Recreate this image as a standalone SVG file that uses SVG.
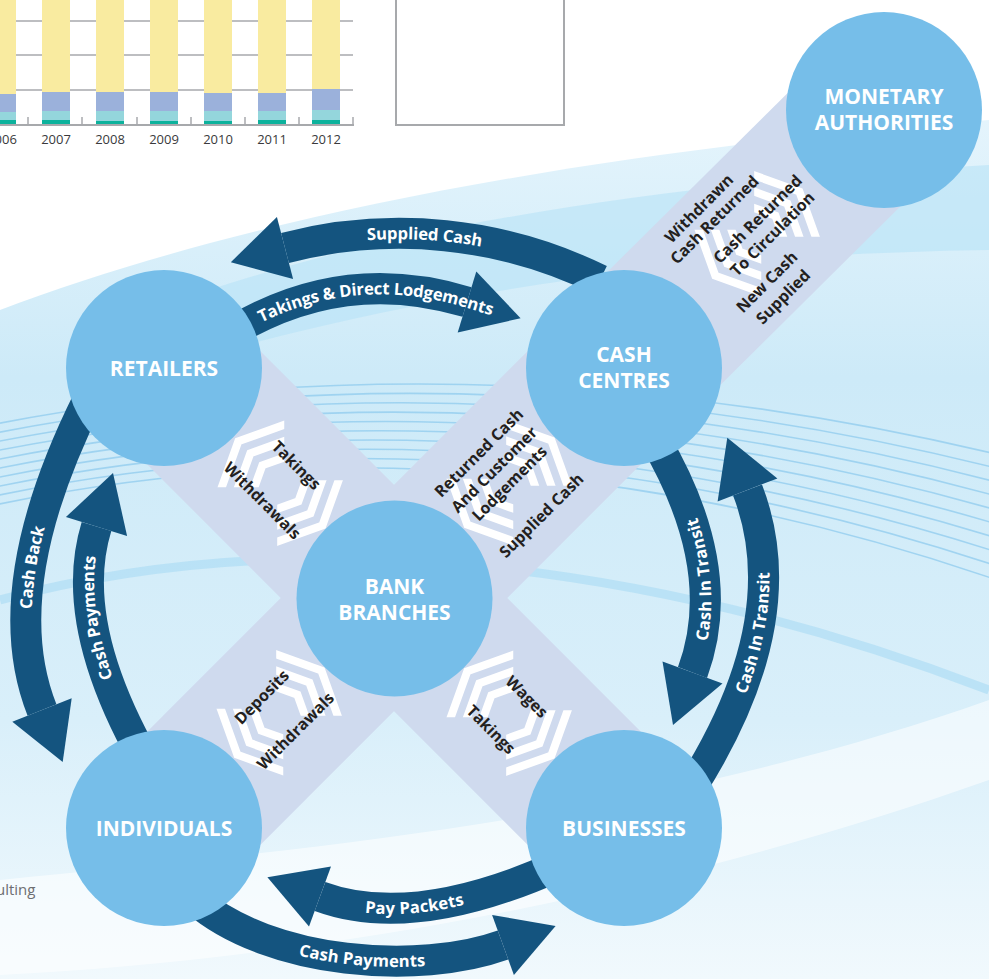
<svg xmlns="http://www.w3.org/2000/svg" xmlns:xlink="http://www.w3.org/1999/xlink" width="989" height="979" viewBox="0 0 989 979">
<style>
.node{fill:#76bee9}
.nlab{font-family:"Open Sans","Liberation Sans",sans-serif;font-weight:700;font-size:21px;fill:#ffffff;text-anchor:middle}
.band{fill:#cfdaee}
.chev{fill:none;stroke:#ffffff;stroke-width:8;stroke-linejoin:miter}
.blab{font-family:"Open Sans","Liberation Sans",sans-serif;font-weight:700;font-size:16px;fill:#231f20;text-anchor:middle}
.shaft{fill:none;stroke:#14547f;stroke-width:31}
.head{fill:#14547f}
.alab{font-family:"Open Sans","Liberation Sans",sans-serif;font-weight:700;font-size:16.6px;fill:#ffffff}
.bgline{fill:none;stroke:#8fcbee;stroke-width:1.6;opacity:0.75}
.grid{stroke:#a7a9ac;stroke-width:1.5}
.yr{font-family:"Open Sans","Liberation Sans",sans-serif;font-size:13px;fill:#3a3a3c;text-anchor:middle}
</style>
<defs>
<linearGradient id="gBg" x1="0" y1="0" x2="0" y2="1">
<stop offset="0" stop-color="#e4f4fc"/>
<stop offset="0.3" stop-color="#cdeaf8"/>
<stop offset="0.7" stop-color="#d9effa"/>
<stop offset="1" stop-color="#f1f9fd"/>
</linearGradient>
<clipPath id="cA" clipPathUnits="userSpaceOnUse"><polygon points="6,0 -94,100 -200,100 -200,-100 -94,-100"/></clipPath>
<clipPath id="cB" clipPathUnits="userSpaceOnUse"><polygon points="-4,0 96,100 200,100 200,-100 96,-100"/></clipPath>
<g id="chev">
<g clip-path="url(#cA)">
<polyline class="chev" points="-26,-70 -59,0 -26,70"/>
<polyline class="chev" points="-9,-70 -42,0 -9,70"/>
<polyline class="chev" points="8,-70 -25,0 8,70"/>
</g>
<g clip-path="url(#cB)">
<polyline class="chev" points="27,-70 60,0 27,70"/>
<polyline class="chev" points="10,-70 43,0 10,70"/>
<polyline class="chev" points="-7,-70 26,0 -7,70"/>
</g>
</g>
<path id="tpSupplied" d="M 285 248 A 455 455 0 0 1 600 280"/>
<path id="tpTakings" d="M 235 330 Q 345 265 467 302 L 540 324"/>
<path id="tpPay" d="M 320 896.5 Q 413.8 931 560 865"/>
<path id="tpCPbot" d="M 195 900 C 270 965 420 975 503 945 L 560 925"/>
<path id="tpCashBack" d="M 42 710 Q -6 589 88 400"/>
<path id="tpCPleft" d="M 145 760 Q 67 622 96.5 526.5"/>
<path id="tpCITin" d="M 692.5 672.5 Q 730.8 569.4 655 440"/>
<path id="tpCITout" d="M 690 790 Q 798 620.6 747.5 490"/>
</defs>

<g id="background">
<rect x="0" y="0" width="989" height="979" fill="#ffffff"/>
<path d="M0,310 C 250,215 600,150 989,120 L989,979 L0,979 Z" fill="url(#gBg)"/>
<path d="M80,340 C 300,240 620,185 989,165 L989,250 C 650,255 360,300 80,395 Z" fill="#b8e2f7" opacity="0.6"/>
<path d="M0,600 C 300,520 650,560 989,690" fill="none" stroke="#a8dbf4" stroke-width="9" opacity="0.6"/>
<path d="M0,880 C 300,850 650,820 989,700 L989,780 C 650,900 300,960 0,975 Z" fill="#ffffff" opacity="0.55"/>
<g id="bg-lines">
<path class="bgline" d="M -10 425 Q 480 330 1000 455"/>
<path class="bgline" d="M -10 434 Q 480 338 1000 469"/>
<path class="bgline" d="M -10 443 Q 480 346 1000 483"/>
<path class="bgline" d="M -10 452 Q 480 354 1000 497"/>
<path class="bgline" d="M -10 461 Q 480 362 1000 511"/>
<path class="bgline" d="M -10 470 Q 480 370 1000 525"/>
<path class="bgline" d="M -10 479 Q 480 378 1000 539"/>
<path class="bgline" d="M -10 488 Q 480 386 1000 553"/>
<path class="bgline" d="M -10 497 Q 480 394 1000 567"/>
<path class="bgline" d="M -10 506 Q 480 402 1000 581"/>
</g>
</g>

<g id="chart">
<line class="grid" x1="0" y1="21" x2="353" y2="21"/>
<line class="grid" x1="0" y1="55" x2="353" y2="55"/>
<line class="grid" x1="0" y1="90" x2="353" y2="90"/>
<g id="bars">
<rect x="-12" y="0" width="28" height="94" fill="#f9eba0"/><rect x="-12" y="94" width="28" height="18" fill="#9bb1db"/><rect x="-12" y="112" width="28" height="8" fill="#94d6dc"/><rect x="-12" y="120" width="28" height="5" fill="#0cb29c"/>
<rect x="42" y="0" width="28" height="92" fill="#f9eba0"/><rect x="42" y="92" width="28" height="19" fill="#9bb1db"/><rect x="42" y="111" width="28" height="9" fill="#94d6dc"/><rect x="42" y="120" width="28" height="5" fill="#0cb29c"/>
<rect x="96" y="0" width="28" height="92" fill="#f9eba0"/><rect x="96" y="92" width="28" height="19" fill="#9bb1db"/><rect x="96" y="111" width="28" height="10" fill="#94d6dc"/><rect x="96" y="121" width="28" height="4" fill="#0cb29c"/>
<rect x="150" y="0" width="28" height="92" fill="#f9eba0"/><rect x="150" y="92" width="28" height="19" fill="#9bb1db"/><rect x="150" y="111" width="28" height="10" fill="#94d6dc"/><rect x="150" y="121" width="28" height="4" fill="#0cb29c"/>
<rect x="204" y="0" width="28" height="93" fill="#f9eba0"/><rect x="204" y="93" width="28" height="18" fill="#9bb1db"/><rect x="204" y="111" width="28" height="10" fill="#94d6dc"/><rect x="204" y="121" width="28" height="4" fill="#0cb29c"/>
<rect x="258" y="0" width="28" height="93" fill="#f9eba0"/><rect x="258" y="93" width="28" height="18" fill="#9bb1db"/><rect x="258" y="111" width="28" height="9" fill="#94d6dc"/><rect x="258" y="120" width="28" height="5" fill="#0cb29c"/>
<rect x="312" y="0" width="28" height="89" fill="#f9eba0"/><rect x="312" y="89" width="28" height="21" fill="#9bb1db"/><rect x="312" y="110" width="28" height="10" fill="#94d6dc"/><rect x="312" y="120" width="28" height="5" fill="#0cb29c"/>
</g>
<line x1="0" y1="125" x2="354" y2="125" stroke="#a7a9ac" stroke-width="2"/>
<g stroke="#a7a9ac" stroke-width="1.5">
<line x1="28" y1="117" x2="28" y2="125"/><line x1="82" y1="117" x2="82" y2="125"/><line x1="137" y1="117" x2="137" y2="125"/><line x1="191" y1="117" x2="191" y2="125"/><line x1="245" y1="117" x2="245" y2="125"/><line x1="299" y1="117" x2="299" y2="125"/><line x1="353" y1="117" x2="353" y2="125"/>
</g>
<text class="yr" x="2" y="144">2006</text>
<text class="yr" x="56" y="144">2007</text>
<text class="yr" x="110" y="144">2008</text>
<text class="yr" x="164" y="144">2009</text>
<text class="yr" x="218" y="144">2010</text>
<text class="yr" x="272" y="144">2011</text>
<text class="yr" x="326" y="144">2012</text>
</g>
<rect id="empty-box" x="396" y="-5" width="168" height="130" fill="#ffffff" stroke="#a7a9ac" stroke-width="2"/>
<text x="-4" y="895" font-family="Open Sans, Liberation Sans, sans-serif" font-size="15" fill="#6d6e71">ulting</text>

<g id="flow-bands">
<polygon class="band" points="220.6,311.4 680.6,771.4 567.4,884.6 107.4,424.6"/>
<polygon class="band" points="107.4,771.4 567.4,311.4 680.6,424.6 220.6,884.6"/>
<polygon class="band" points="567.7,311.2 827.7,53.2 940.3,166.8 680.3,424.8"/>
<g id="band-retailers-bank" transform="translate(280,483) rotate(45)">
<use xlink:href="#chev" href="#chev"/>
<text class="blab" x="-1" y="-18.5">Takings</text>
<text class="blab" x="0" y="30.5">Withdrawals</text>
</g>
<g id="band-bank-businesses" transform="translate(509,713) rotate(45)">
<use xlink:href="#chev" href="#chev"/>
<text class="blab" x="1" y="-18.5">Wages</text>
<text class="blab" x="-1" y="30">Takings</text>
</g>
<g id="band-individuals-bank" transform="translate(279,713) rotate(-45)">
<use xlink:href="#chev" href="#chev"/>
<text class="blab" x="-1" y="-17.8">Deposits</text>
<text class="blab" x="-1" y="30">Withdrawals</text>
</g>
<g id="band-bank-cashcentres" transform="translate(509,483) rotate(-45)">
<use xlink:href="#chev" href="#chev"/>
<text class="blab" x="0" y="-37">Returned Cash</text>
<text class="blab" x="-1" y="-14.3">And Customer</text>
<text class="blab" x="0" y="6.2">Lodgements</text>
<text class="blab" x="0" y="51.5">Supplied Cash</text>
</g>
<g id="band-cashcentres-monetary" transform="translate(757,234) rotate(-45)">
<use xlink:href="#chev" href="#chev"/>
<text class="blab" x="-23" y="-53.5">Withdrawn</text>
<text class="blab" x="-20" y="-34.5">Cash Returned</text>
<text class="blab" x="11" y="-4.5">Cash Returned</text>
<text class="blab" x="11" y="16.5">To Circulation</text>
<text class="blab" x="-27" y="46.5">New Cash</text>
<text class="blab" x="-26" y="68.5">Supplied</text>
</g>
</g>

<g id="connectors">
<g id="arrow-supplied-cash">
<path class="shaft" d="M 600 280 A 455 455 0 0 0 285 248"/>
<polygon class="head" points="230.8,262.2 276.9,217.1 293.1,278.9"/>
<text class="alab" dy="5.8"><textPath xlink:href="#tpSupplied" href="#tpSupplied" startOffset="141" text-anchor="middle">Supplied Cash</textPath></text>
</g>
<g id="arrow-takings-lodgements">
<path class="shaft" d="M 235 330 Q 345 265 467 302"/>
<polygon class="head" points="520.6,318.2 476.3,271.4 457.7,332.6"/>
<text class="alab" dy="5.8"><textPath xlink:href="#tpTakings" href="#tpTakings" startOffset="27">Takings &amp; Direct Lodgements</textPath></text>
</g>
<g id="arrow-cash-back">
<path class="shaft" d="M 88 400 Q -6 589 42 710"/>
<polygon class="head" points="62.7,762 71.7,698.2 12.3,721.8"/>
<text class="alab" dy="5.8"><textPath xlink:href="#tpCashBack" href="#tpCashBack" startOffset="45%" text-anchor="middle">Cash Back</textPath></text>
</g>
<g id="arrow-cash-payments-left">
<path class="shaft" d="M 145 760 Q 67 622 96.5 526.5"/>
<polygon class="head" points="113,473 127.1,535.9 65.9,517.1"/>
<text class="alab" dy="5.8"><textPath xlink:href="#tpCPleft" href="#tpCPleft" startOffset="62%" text-anchor="middle">Cash Payments</textPath></text>
</g>
<g id="arrow-cit-inner">
<path class="shaft" d="M 655 440 Q 730.8 569.4 692.5 672.5"/>
<polygon class="head" points="673,725 722.5,683.6 662.5,661.4"/>
<text class="alab" dy="5.8"><textPath xlink:href="#tpCITin" href="#tpCITin" startOffset="39%" text-anchor="middle">Cash In Transit</textPath></text>
</g>
<g id="arrow-cit-outer">
<path class="shaft" d="M 690 790 Q 798 620.6 747.5 490"/>
<polygon class="head" points="727.3,437.8 777.4,478.4 717.6,501.6"/>
<text class="alab" dy="5.8"><textPath xlink:href="#tpCITout" href="#tpCITout" startOffset="54%" text-anchor="middle">Cash In Transit</textPath></text>
</g>
<g id="arrow-pay-packets">
<path class="shaft" d="M 560 865 Q 413.8 931 320 896.5"/>
<polygon class="head" points="267.4,877.2 331,866.5 309,926.5"/>
<text class="alab" dy="5.8"><textPath xlink:href="#tpPay" href="#tpPay" startOffset="96" text-anchor="middle">Pay Packets</textPath></text>
</g>
<g id="arrow-cash-payments-bottom">
<path class="shaft" d="M 195 900 C 270 965 420 975 503 945"/>
<polygon class="head" points="555.6,926 492.1,914.9 513.9,975.1"/>
<text class="alab" dy="5.8"><textPath xlink:href="#tpCPbot" href="#tpCPbot" startOffset="180" text-anchor="middle">Cash Payments</textPath></text>
</g>
</g>

<g id="node-monetary">
<circle class="node" cx="884" cy="110" r="98"/>
<text class="nlab" x="884" y="104">MONETARY</text>
<text class="nlab" x="884" y="130">AUTHORITIES</text>
</g>
<g id="node-retailers">
<circle class="node" cx="164" cy="368" r="98"/>
<text class="nlab" x="164" y="376">RETAILERS</text>
</g>
<g id="node-cash-centres">
<circle class="node" cx="624" cy="368" r="98"/>
<text class="nlab" x="624" y="362">CASH</text>
<text class="nlab" x="624" y="388">CENTRES</text>
</g>
<g id="node-bank-branches">
<circle class="node" cx="394.5" cy="598.5" r="98"/>
<text class="nlab" x="394.5" y="594">BANK</text>
<text class="nlab" x="394.5" y="620">BRANCHES</text>
</g>
<g id="node-individuals">
<circle class="node" cx="164" cy="828" r="98"/>
<text class="nlab" x="164" y="836">INDIVIDUALS</text>
</g>
<g id="node-businesses">
<circle class="node" cx="624" cy="828" r="98"/>
<text class="nlab" x="624" y="836">BUSINESSES</text>
</g>
</svg>
